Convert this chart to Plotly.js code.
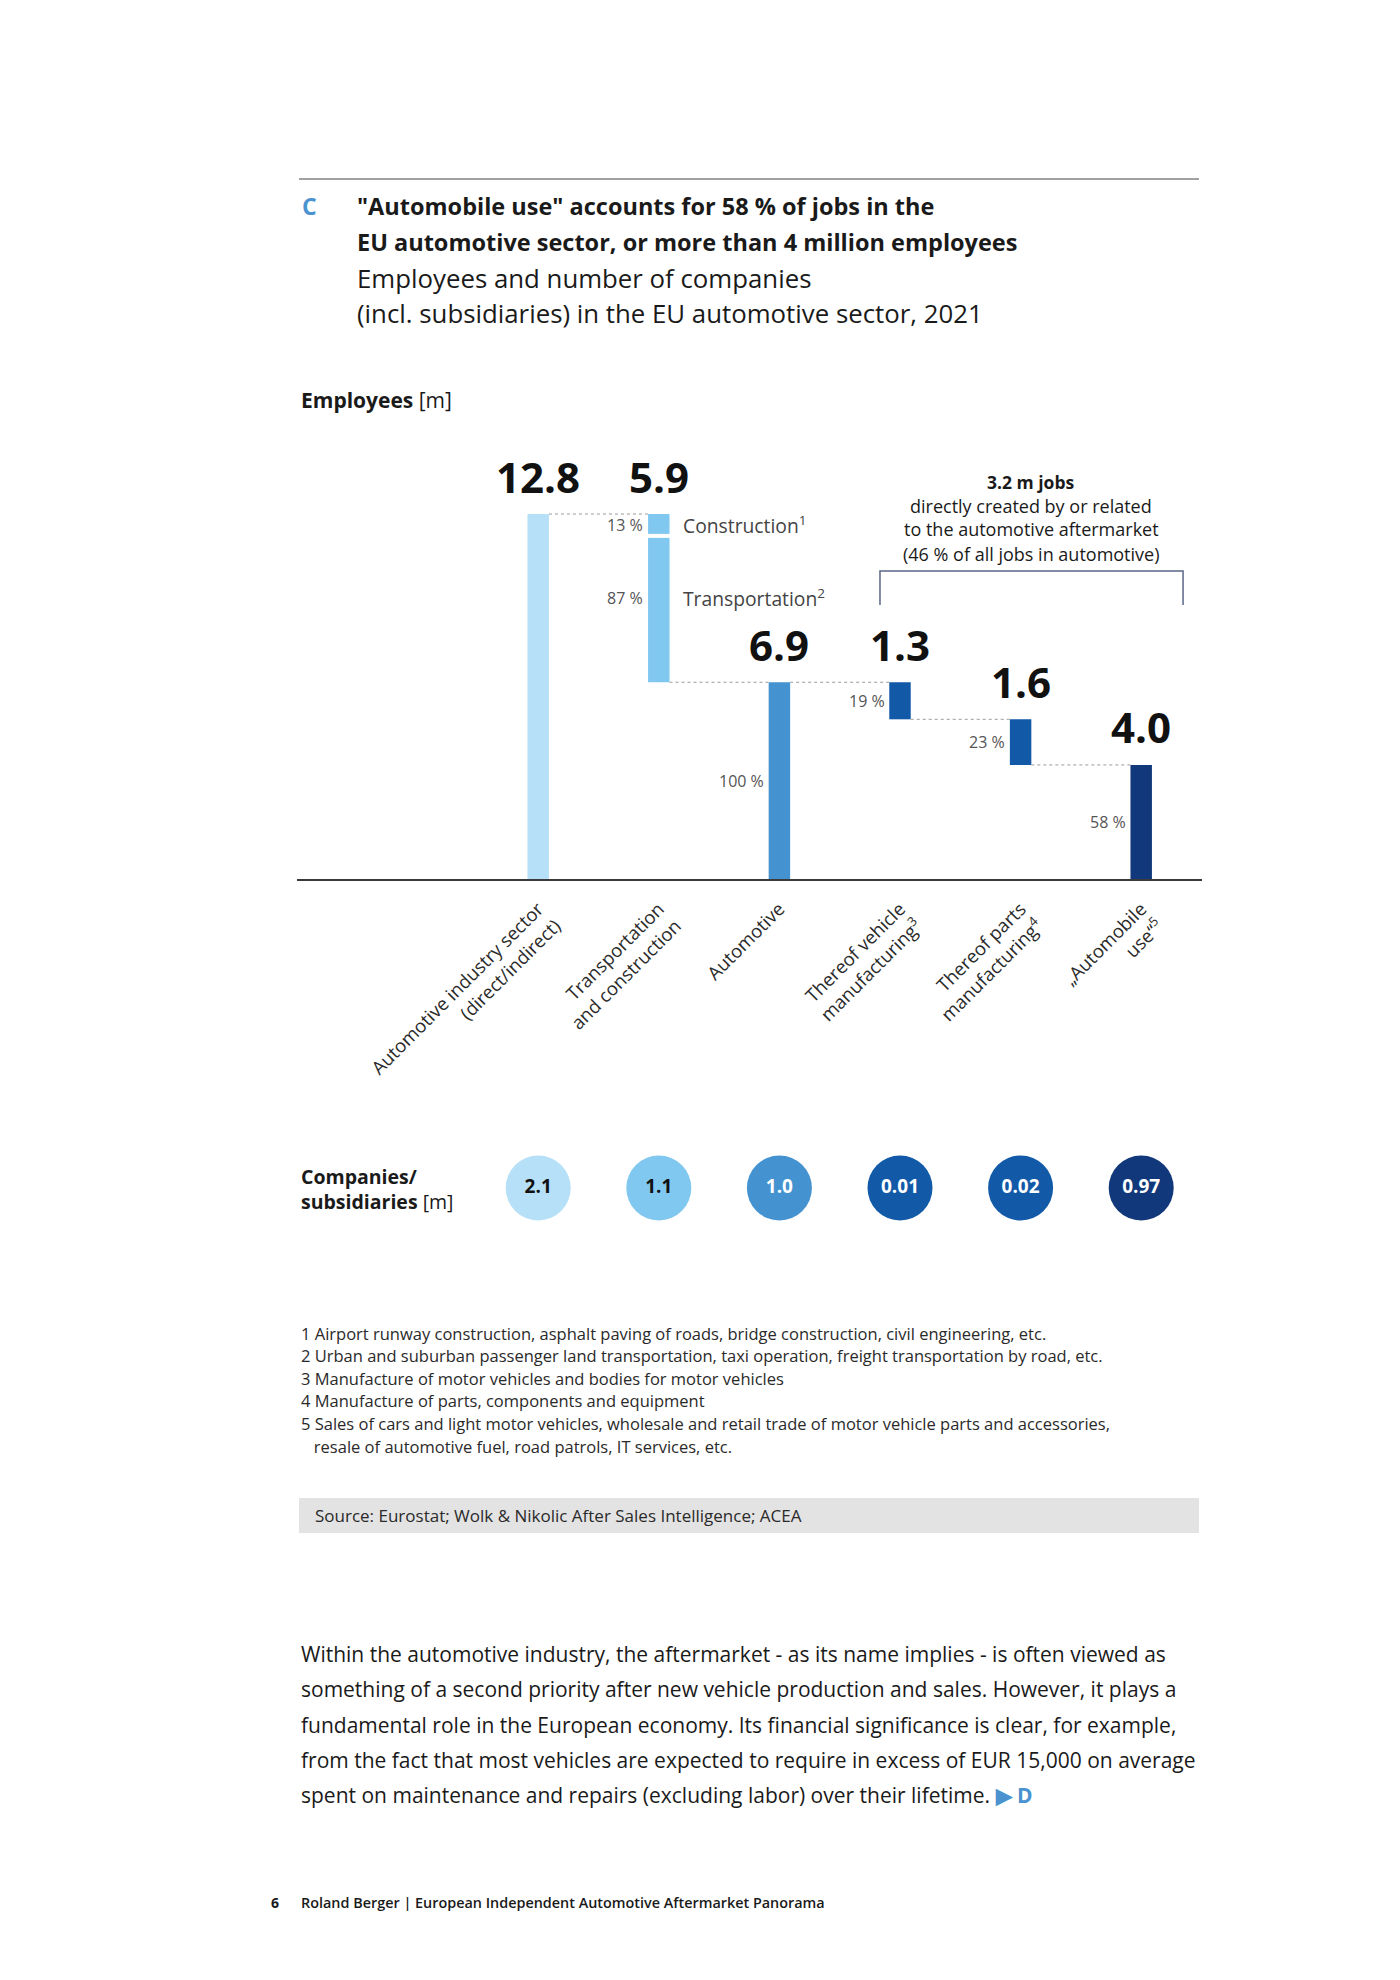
<!DOCTYPE html>
<html><head><meta charset="utf-8">
<script src="https://cdn.plot.ly/plotly-3.0.1.min.js"></script>
<style>html,body{margin:0;padding:0;background:#fff}#chart{width:1400px;height:1980px}</style>
</head><body><div id="chart"></div>
<script>
// ---------- DATA ----------
const categories = ['Automotive industry sector (direct/indirect)', 'Transportation and construction', 'Automotive', 'Thereof vehicle manufacturing', 'Thereof parts manufacturing', 'Automobile use'];
const tickLabels = ['Automotive industry sector<br>(direct/indirect)', 'Transportation<br>and construction', 'Automotive', 'Thereof vehicle<br>manufacturing<sup>3</sup>', 'Thereof parts<br>manufacturing<sup>4</sup>', '„Automobile<br>use“<sup>5</sup>'];
const employees = [12.8, 5.9, 6.9, 1.3, 1.6, 4.0];           // m employees
const measures = ['total', 'drop', 'total', 'drop', 'drop', 'drop'];
const shareLabels = ['', '', '100 %', '19 %', '23 %', '58 %'];
const segmentedIndex = 1;
const segmentNames = ['Construction<sup>1</sup>', 'Transportation<sup>2</sup>'];
const segmentShares = [0.13, 0.87];
const segmentShareLabels = ['13 %', '87 %'];
const companies = [2.1, 1.1, 1.0, 0.01, 0.02, 0.97];         // m companies/subsidiaries
const barColors = ['#b5e0f7', '#80c8f0', '#4492d0', '#1259a8', '#1259a8', '#10387a'];
const companyTextColors = ['#111111', '#111111', '#ffffff', '#ffffff', '#ffffff', '#ffffff'];

// ---------- LAYOUT HELPERS ----------
const W = 1400, H = 1980;
const PX = x => x / W;
const PY = y => 1 - y / H;
const FONT = 'Open Sans, Liberation Sans, sans-serif';
const barW = 0.178;

// waterfall geometry from data
const bases = [], tops = [], levels = [];
let level = 0;
employees.forEach((v, i) => {
  if (measures[i] === 'total') { bases.push(0); tops.push(v); level = v; }
  else { tops.push(level); bases.push(level - v); level = level - v; }
  levels.push(level);
});

const mainIdx = categories.map((c, i) => i).filter(i => i !== segmentedIndex);
const segVal = employees[segmentedIndex];
const segBase = bases[segmentedIndex];
const segLens = segmentShares.map(s => s * segVal);
const segBases = [segBase + segLens[1], segBase];

const traces = [
  {
    type: 'bar', x: mainIdx.map(i => categories[i]), y: mainIdx.map(i => employees[i]),
    base: mainIdx.map(i => bases[i]), width: barW,
    marker: { color: mainIdx.map(i => barColors[i]), line: { width: 0 } },
    hoverinfo: 'skip', xaxis: 'x', yaxis: 'y'
  },
  {
    type: 'bar', x: [categories[segmentedIndex], categories[segmentedIndex]], y: segLens,
    base: segBases, width: barW,
    marker: { color: barColors[segmentedIndex], line: { width: 0 } },
    hoverinfo: 'skip', xaxis: 'x', yaxis: 'y'
  },
  {
    type: 'scatter', mode: 'markers+text', x: categories, y: categories.map(() => 0),
    marker: { size: 65, color: barColors, line: { width: 0 } },
    text: companies.map(v => v < 1 ? v.toFixed(2) : v.toFixed(1)),
    textposition: 'middle center',
    textfont: { family: FONT, size: 19, color: companyTextColors, weight: 700 },
    hoverinfo: 'skip', xaxis: 'x', yaxis: 'y2', cliponaxis: false
  }
];

const shapes = [];
// top rule
shapes.push({ type: 'line', xref: 'paper', yref: 'paper', x0: PX(299), x1: PX(1199), y0: PY(179), y1: PY(179), line: { color: '#444', width: 1.2 } });
// connectors
for (let i = 0; i < categories.length - 1; i++) {
  shapes.push({ type: 'line', xref: 'x', yref: 'y', x0: i + barW / 2, x1: i + 1 - barW / 2, y0: levels[i], y1: levels[i],
    line: { color: '#9a9a9a', width: 1, dash: 'dot' } });
}
// white gap between segments
shapes.push({ type: 'line', xref: 'x', yref: 'y', x0: segmentedIndex - barW / 2 - 0.01, x1: segmentedIndex + barW / 2 + 0.01,
  y0: segBases[0], y1: segBases[0], line: { color: '#ffffff', width: 4 } });
// bracket
shapes.push({ type: 'path', xref: 'x', yref: 'y', path: 'M 2.834,9.61 L 2.834,10.80 L 5.347,10.80 L 5.347,9.61',
  line: { color: '#5b6687', width: 1.5 } });
// source box
shapes.push({ type: 'rect', xref: 'paper', yref: 'paper', x0: PX(299), x1: PX(1199), y0: PY(1533), y1: PY(1498),
  fillcolor: '#e3e3e3', line: { width: 0 }, layer: 'below' });

const ann = [];
function txt(x, y, text, size, opts = {}) {
  ann.push(Object.assign({ xref: 'paper', yref: 'paper', x: PX(x), y: PY(y), text, showarrow: false,
    xanchor: 'left', yanchor: 'middle', font: { family: FONT, size, color: '#1a1a1a' } }, opts));
}
// headings
txt(300, 206, '<b>C</b>', 23, { font: { family: FONT, size: 23, color: '#4a92d0' } });
txt(355, 206, '<b>"Automobile use" accounts for 58 % of jobs in the</b>', 23.5);
txt(355, 242, '<b>EU automotive sector, or more than 4 million employees</b>', 23.5);
txt(355, 278, 'Employees and number of companies', 25.8);
txt(355, 313, '(incl. subsidiaries) in the EU automotive sector, 2021', 25.8);
txt(299, 400, '<b>Employees</b> [m]', 21);
// aftermarket block
txt(1031, 482, '<b>3.2 m jobs</b>', 17.5, { xanchor: 'center' });
txt(1031, 505.5, 'directly created by or related', 18, { xanchor: 'center' });
txt(1031, 529.5, 'to the automotive aftermarket', 18, { xanchor: 'center' });
txt(1031, 553.5, '(46 % of all jobs in automotive)', 18, { xanchor: 'center' });
// companies row label
txt(299, 1176, '<b>Companies/</b>', 19.5);
txt(299, 1201, '<b>subsidiaries</b> [m]', 19.5);
// footnotes
const notes = ['1 Airport runway construction, asphalt paving of roads, bridge construction, civil engineering, etc.',
  '2 Urban and suburban passenger land transportation, taxi operation, freight transportation by road, etc.',
  '3 Manufacture of motor vehicles and bodies for motor vehicles',
  '4 Manufacture of parts, components and equipment',
  '5 Sales of cars and light motor vehicles, wholesale and retail trade of motor vehicle parts and accessories,',
  '   resale of automotive fuel, road patrols, IT services, etc.'];
notes.forEach((n, i) => txt(299, 1333 + i * 22.6, n, 16.5, { font: { family: FONT, size: 16.5, color: '#2a2a2a' } }));
txt(313, 1515, 'Source: Eurostat; Wolk & Nikolic After Sales Intelligence; ACEA', 17, { font: { family: FONT, size: 17, color: '#2a2a2a' } });
const para = ['Within the automotive industry, the aftermarket - as its name implies - is often viewed as',
  'something of a second priority after new vehicle production and sales. However, it plays a',
  'fundamental role in the European economy. Its financial significance is clear, for example,',
  'from the fact that most vehicles are expected to require in excess of EUR 15,000 on average',
  'spent on maintenance and repairs (excluding labor) over their lifetime. <span style="color:#4a92d0"><b>▶ D</b></span>'];
para.forEach((p, i) => txt(299, 1654 + i * 35.3, p, 21));
txt(269, 1902, '<b>6</b>', 14);
txt(299, 1902, 'Roland Berger | European Independent Automotive Aftermarket Panorama', 14.4, { font: { family: FONT, size: 14.4, color: '#1a1a1a', weight: 600 } });

// value labels
categories.forEach((c, i) => {
  ann.push({ xref: 'x', yref: 'y', x: c, y: tops[i], yshift: 38, text: '<b>' + employees[i].toFixed(1) + '</b>', showarrow: false,
    xanchor: 'center', yanchor: 'middle', font: { family: FONT, size: 42, color: '#111' } });
  if (shareLabels[i]) {
    ann.push({ xref: 'x', yref: 'y', x: c, y: (bases[i] + tops[i]) / 2, xshift: -13.5, text: shareLabels[i], showarrow: false,
      xanchor: 'right', yanchor: 'middle', font: { family: FONT, size: 16, color: '#555' } });
  }
});
// segment labels
segmentNames.forEach((n, k) => {
  const yc = segBases[k] + segLens[k] / 2;
  const ys = k === 1 ? 11 : 0;
  ann.push({ xref: 'x', yref: 'y', x: categories[segmentedIndex], y: yc, yshift: ys, xshift: -13.5, text: segmentShareLabels[k], showarrow: false,
    xanchor: 'right', yanchor: 'middle', font: { family: FONT, size: 16, color: '#555' } });
  ann.push({ xref: 'x', yref: 'y', x: categories[segmentedIndex], y: yc, yshift: ys, xshift: 22, text: n, showarrow: false,
    xanchor: 'left', yanchor: 'middle', font: { family: FONT, size: 19.3, color: '#444' } });
});

const layout = {
  width: W, height: H, margin: { l: 0, r: 0, t: 0, b: 0 },
  paper_bgcolor: '#fff', plot_bgcolor: 'rgba(0,0,0,0)', showlegend: false, barmode: 'overlay',
  font: { family: FONT, color: '#1a1a1a' },
  xaxis: {
    type: 'category', categoryorder: 'array', categoryarray: categories,
    domain: [PX(297), PX(1201.5)], range: [-2, 5.5], anchor: 'y',
    showline: true, linecolor: '#3a3a3a', linewidth: 2, showgrid: false, zeroline: false,
    ticks: '', tickangle: -45, tickvals: categories, ticktext: tickLabels,
    tickfont: { family: FONT, size: 18.5, color: '#2a2a2a' }, ticklabelstandoff: 10, fixedrange: true
  },
  yaxis: { domain: [PY(879), PY(440)], range: [0, 12.8 * 439 / 365], visible: false, fixedrange: true },
  yaxis2: { domain: [PY(1228), PY(1148)], range: [-1, 1], visible: false, anchor: 'x', fixedrange: true },
  shapes, annotations: ann
};

Plotly.newPlot('chart', traces, layout, { displayModeBar: false, staticPlot: true });
</script></body></html>
